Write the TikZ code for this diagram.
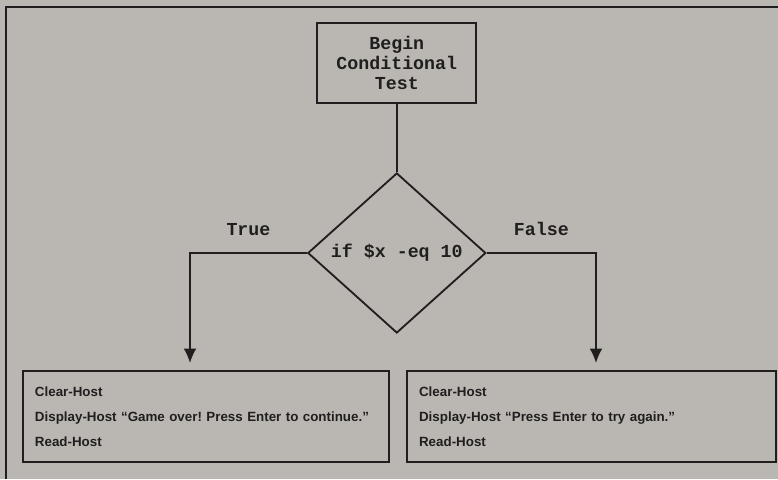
\documentclass[tikz,border=0pt]{standalone}
\usepackage{fontspec}
\setmainfont{Liberation Sans}
\newfontfamily\codefont{Liberation Mono}
\usepackage{tikz}
\usetikzlibrary{arrows.meta,positioning,shapes.geometric,backgrounds}
\frenchspacing

\definecolor{paper}{RGB}{186,183,178}
\definecolor{ink}{RGB}{32,30,30}

\begin{document}
\begin{tikzpicture}[
  >={Latex[length=3.6mm,width=3.2mm]},
  code/.style={font={\codefont\bfseries\fontsize{13pt}{14.5pt}\selectfont}, text=ink},
  st/.style={draw=ink, line width=1.3pt, align=center, minimum width=3.975cm, minimum height=2cm, inner sep=0pt, code},
  test/.style={draw=ink, line width=1.3pt, diamond, minimum width=4.45cm, minimum height=4cm, inner sep=0pt, code},
  task/.style={draw=ink, line width=1.3pt, align=left, text width=#1, minimum height=2.275cm, inner xsep=0.3cm, inner ysep=0pt, font={\bfseries\fontsize{9.5pt}{17.7pt}\selectfont}, text=ink},
  flow/.style={->, line width=1.2pt, draw=ink},
  t/.style={code, inner sep=0pt, above=4mm},
]
\fill[paper] (0,0) rectangle (19.45,11.975);
\useasboundingbox (0,0) rectangle (19.45,11.975);
% frame of the page
\draw[ink, line width=1.8pt] (0.15,0) -- (0.15,11.8) -- (19.45,11.8);

\node[st] (begin) at (9.92,10.4) {Begin\\Conditional\\Test};
\node[test] (cond) at (9.92,5.65) {if \$x -eq 10};
\node[task=8.55cm] (yes) at (5.15,1.5625) {Clear-Host\\Display-Host “Game over! Press Enter to continue.”\\Read-Host};
\node[task=8.625cm] (no) at (14.79,1.5625) {Clear-Host\\Display-Host “Press Enter to try again.”\\Read-Host};
\coordinate (yesin) at (4.75,2.9);
\coordinate (noin) at (14.9,2.9);

\draw[ink, line width=1.2pt] (begin) -- (cond);
\draw[flow] (cond.west) -| node[t, pos=0.25] {True} (yesin);
\draw[flow] (cond.east) -| node[t, pos=0.25] {False} (noin);
\end{tikzpicture}
\end{document}
